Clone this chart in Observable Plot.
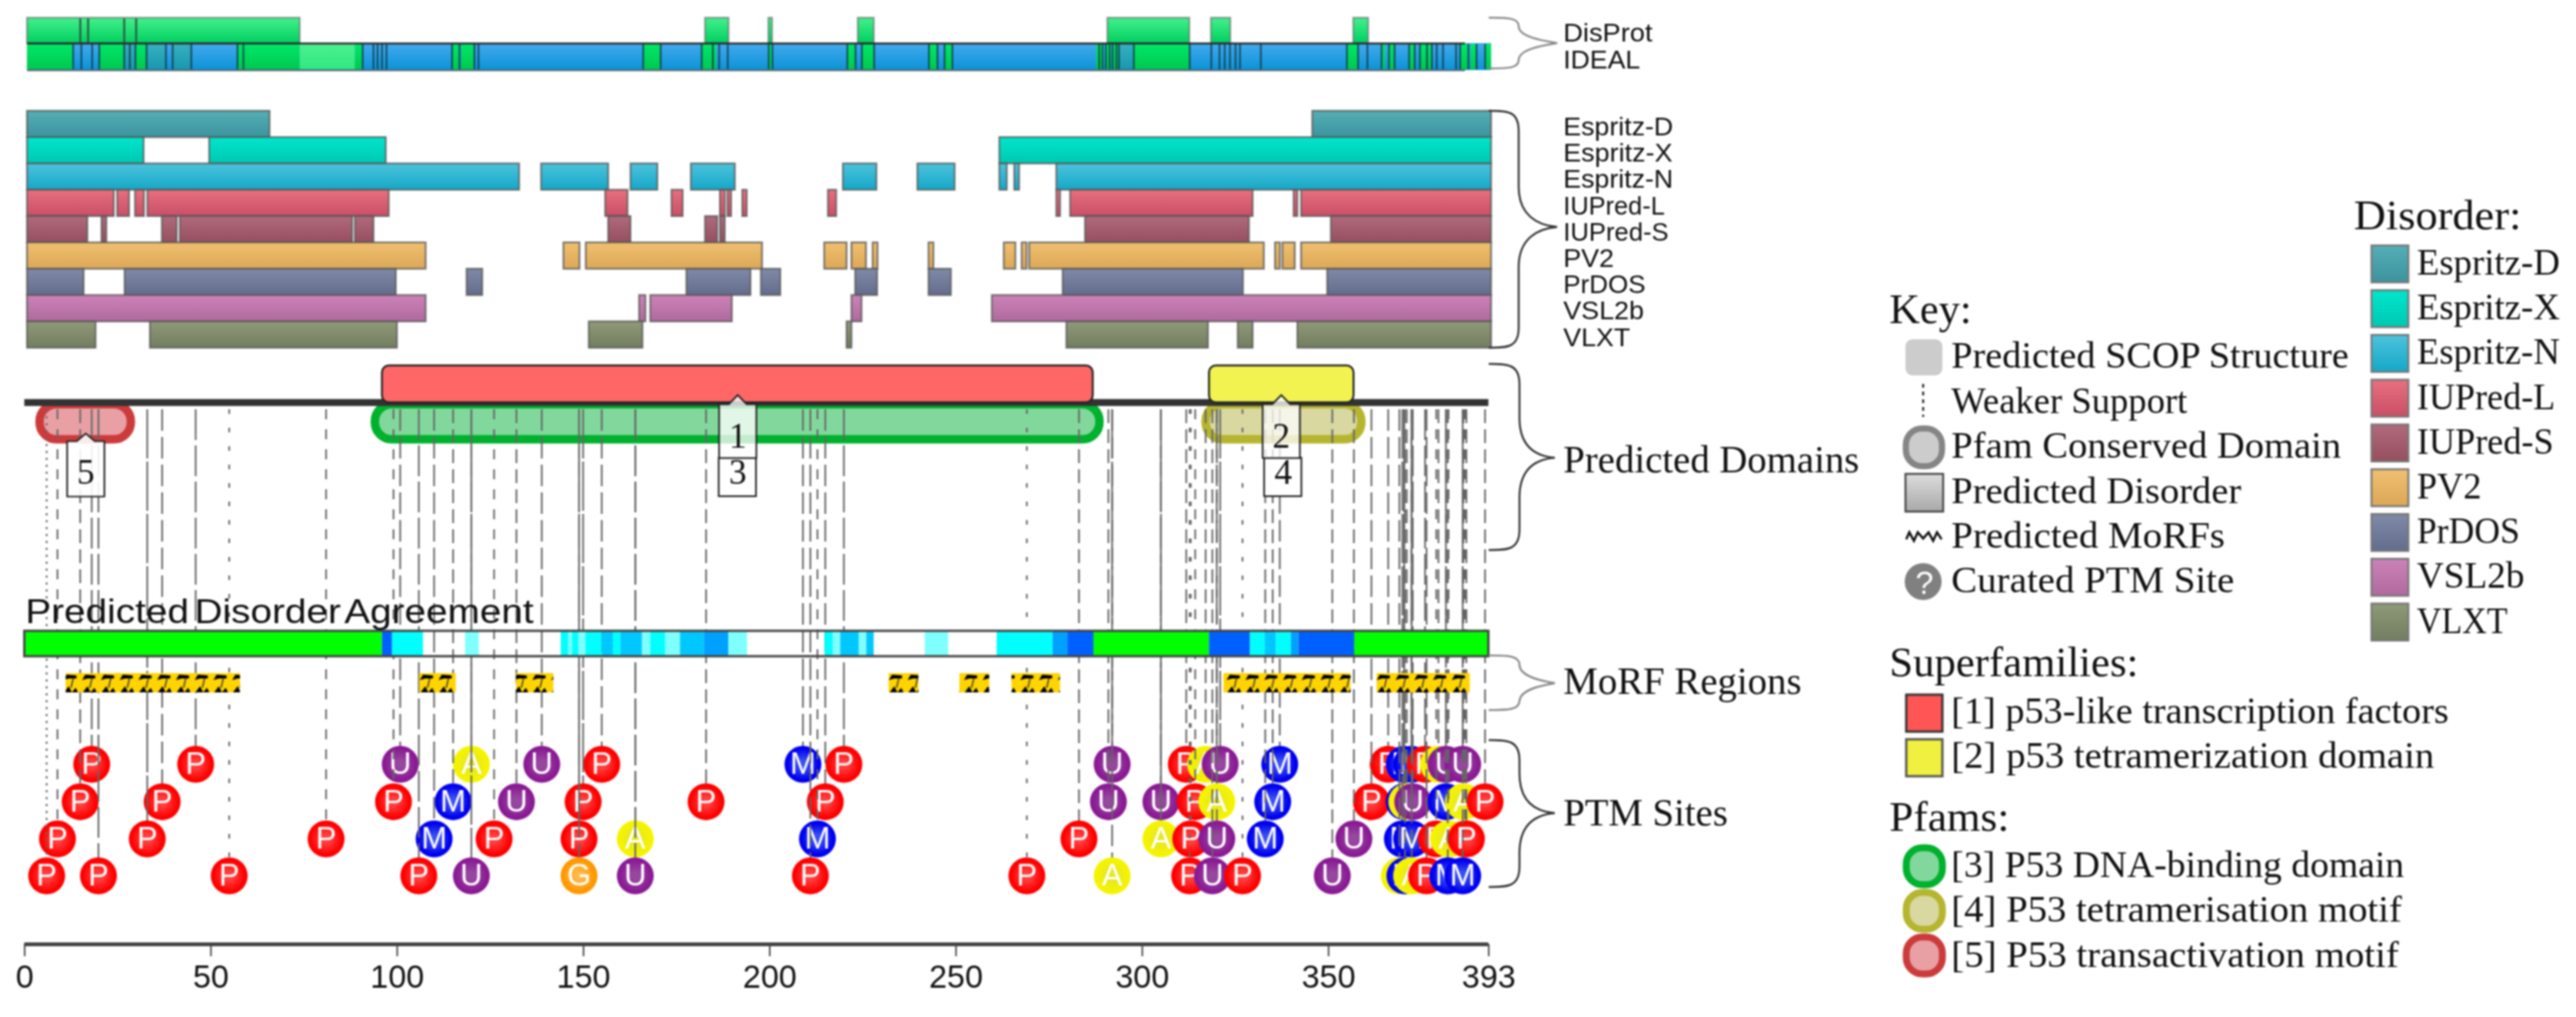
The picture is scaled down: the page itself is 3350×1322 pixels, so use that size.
<!DOCTYPE html>
<html><head><meta charset="utf-8">
<script src="https://cdn.jsdelivr.net/npm/d3@7"></script>
<script src="https://cdn.jsdelivr.net/npm/@observablehq/plot@0.6"></script>
<style>
html,body{margin:0;padding:0;background:#fff;width:3350px;height:1322px;overflow:hidden}
#wrap{position:relative;width:3350px;height:1322px;filter:blur(0.9px)}
#wrap>svg{position:absolute;left:0;top:0}
#ov text{font-family:"Liberation Serif",serif}
</style></head><body><div id="wrap"></div>
<script>
// ---------- data: residue ranges ----------
const sequenceLength = 393;
const axisTicks = [0,50,100,150,200,250,300,350,393];
const disProt = [[0,73.2],[182,188.3],[199,200],[223,227.3],[290,312],[317.8,323],[356,360]];
const disProtLines = [14.2,16.3,26,29.2];
const idealGreen = [[0,12.3],[19.3,26],[29,32],[56.4,73.2],[88,90],[114,116],[116.5,120],[165.3,170],[181,183],[183,185],[199,200],[220,222.3],[224,227.3],[242,244.3],[246.2,248.3],[287,289],[289.5,291],[291.5,293],[297,312],[354.2,357.2],[363.5,364.5],[365.5,367],[371,372.4],[373.8,375.7],[376,377],[384.6,386.8],[387.5,389],[391.3,393]];
const idealPale = [[73.2,88]];
const idealTeal = [[26,29],[32,37.2],[39,44],[293,297]];
const idealLines = [12.3,14.5,17.4,19.3,26,27.5,29,32,37.2,39,44,56.4,58,90,92.9,94,95.2,96.4,114,116,120,121.1,165.3,170,181,184,185.7,188,199,200,220.1,222.3,224,227.3,242,244.3,246.2,248.3,287.7,288.6,289.5,290.5,291.3,292.3,293,297,312,317.8,320,321.4,322.8,324.3,325.5,331.1,354.2,357.2,359.7,363.5,365.5,367,370.9,372.4,373.8,375.7,377,378.3,380,383.5,384.6,386.8,389,391.3];

const espritzD = [[0,65.1],[345,393]];
const espritzX = [[0,31.3],[48.9,96.3],[261,393]];
const espritzN = [[0,132.1],[138,156],[162,169.2],[178.2,190],[219,228],[239,249],[261,263],[265,266.3],[276.3,393]];
const iupredL = [[0,23.3],[24.2,27.4],[29,31.4],[32.3,97.1],[155.2,161.2],[173,176],[186,187.3],[188,189],[192,193.2],[215,217.2],[276.3,277.3],[280,329],[340,341],[342,393]];
const iupredS = [[0,16.2],[20,21.3],[36.2,40.2],[41,87.3],[88,93],[156,162],[182,185.3],[186,187.3],[284,328],[350,393]];
const pv2 = [[0,107],[144,148.3],[150,197.3],[214,220],[221.3,225.2],[227,228.3],[242,243.3],[262.2,265.3],[267,268.3],[269,332],[335,336.3],[337,340.3],[342,393]];
const prdos = [[0,15.2],[26.2,99],[118,122.2],[177,194.2],[197,202.2],[222.3,228.2],[242,248],[278,326.4],[349,393]];
const vsl2b = [[0,107],[164.3,166],[167.3,189.2],[221.3,224],[259,393]];
const vlxt = [[0,18.4],[33,99.3],[150.8,165.2],[220,221.3],[279,317],[325,329],[341,393]];
const disorderNames = ["Espritz-D","Espritz-X","Espritz-N","IUPred-L","IUPred-S","PV2","PrDOS","VSL2b","VLXT"];
const disorderRanges = [espritzD,espritzX,espritzN,iupredL,iupredS,pv2,prdos,vsl2b,vlxt];

const superfamilies = [[96,286.8,"#ff6666"],[318,356.8,"#f2f250"]];
const pfams = [[94.1,288.6,"#82d89c","#00b12e"],[317.1,358.9,"#d8d8a0","#b5b52f"],[4.1,28.6,"#e8a0a5","#cc3b3b"]];
const calloutsUpper = [[191.4,"1"],[337.3,"2"]];
const calloutsLower = [[191.4,"3"],[337.8,"4"],[16.4,"5"]];

const agreementLevels = ["#ffffff","#80ffff","#00ffff","#00c8ff","#00a0ff","#0060ff","#00ff00"];
const agreement = [[0,96,6],[96,98.7,5],[98.7,107,2],[118.3,122,1],[144,146,2],[146,147,1],[147,148.7,2],[148.7,150.6,1],[150.6,155,2],[155,158,3],[158,160,2],[160,165.8,3],[165.8,168,1],[168,172,2],[172,176,1],[176,182.4,3],[182.4,189,4],[189,194,1],[214.8,217,2],[217,219,1],[219,224,3],[224,226,1],[226,228,3],[241.7,248,1],[261,276,2],[276,280,4],[280,287,5],[287,318,6],[318,329,5],[329,333,2],[333,336,3],[336,340,2],[340,342,4],[342,357,5],[357,393,6]];
const morfRegions = [[11.1,57.9],[106,115.8],[132,142],[232,240],[251,259],[265,278],[321.9,356],[363,388]];

// PTM rows, top to bottom: position, kind letter, support strength of the guide line
const ptmRow1Pos = [18,45.9,100.8,119.9,138.8,154.9,208.9,219.9,291.9,311.8,317,320.9,336.9,366,370.3,372.3,375.9,379.5,381.5,386];
const ptmRow1Kind = "PPUAUPMPUPAUMPMMPAUU";
const ptmRow1Sup = [5,5,4,5,4,4,4,5,6,3,3,6,4,4,6,6,5,3,6,6];
const ptmRow2Pos = [14.9,36.9,99,115,132,149.9,182.9,214.9,290.9,305,314.2,320,335,361.5,370.3,371,372.6,381.5,386.2,392];
const ptmRow2Kind = "PPPMUPPPUUPAMPMAUMAP";
const ptmRow2Sup = [3,4,2,3,3,6,3,4,3,5,2,4,3,4,5,3,5,3,3,3];
const ptmRow3Pos = [8.8,32.9,80.9,109.9,126,148.8,163.9,212.8,283,305,313,320,333,356.8,369.8,372.3,378.9,382.2,386.6,387];
const ptmRow3Kind = "PPPMPPAMPAPUMUMMPAGP";
const ptmRow3Sup = [2,6,2,4,2,6,5,2,3,6,1,3,3,3,6,4,2,2,2,3];
const ptmRow4Pos = [5.9,19.8,54.9,105.8,119.9,148.8,163.9,210.9,269,291.9,312.7,318.8,326.9,351,369,370.5,372.3,376.3,382,386];
const ptmRow4Kind = "PPPPUGUPPAPUPUAMAPMM";
const ptmRow4Sup = [0,5,1,5,6,5,5,4,1,4,1,3,1,3,4,3,3,4,3,3];
const ptmRows = [[ptmRow1Pos,ptmRow1Kind,ptmRow1Sup],[ptmRow2Pos,ptmRow2Kind,ptmRow2Sup],[ptmRow3Pos,ptmRow3Kind,ptmRow3Sup],[ptmRow4Pos,ptmRow4Kind,ptmRow4Sup]];

// ---------- styles and layout ----------
const disorderTop = ["#55afb5","#00e6cc","#4dc3dc","#e8707f","#b06a7c","#f0c070","#808aa8","#cc82b8","#8f9a78"];
const disorderBot = ["#3c939f","#00c8b2","#14a8c8","#c94f66","#964f5f","#dba857","#636c8c","#b06a9e","#737d60"];
const dashes = ["3 6","6 18","13 13","18 8","28 8","40 7","64 4"];
const ptmColors = {P:["#ff4040","#ff0000"],M:["#3a50f0","#0000f0"],U:["#96489e","#8a1a94"],A:["#e6e62a","#f4f400"],G:["#ffb84a","#ff9800"]};
const rowY = 34.22, rowTop = 144, ptmY = [993,1041.7,1090,1138];

// ---------- overlay: defs, labels, brackets, key ----------
const wrap = d3.select("#wrap");
const ov = wrap.append("svg").attr("id","ov").attr("width",3350).attr("height",1322).style("z-index",2);
const defs = ov.append("defs");
function lin(id,a,b){const g=defs.append("linearGradient").attr("id",id).attr("x1",0).attr("x2",0).attr("y1",0).attr("y2",1);
 g.append("stop").attr("offset",0).attr("stop-color",a);g.append("stop").attr("offset",1).attr("stop-color",b);}
disorderNames.forEach((n,i)=>lin("dis"+i,disorderTop[i],disorderBot[i]));
lin("disprotG","#44f08c","#00d060");lin("idealB","#44aaee","#0b93d8");lin("idealG","#00e868","#00c850");lin("idealP","#4cf090","#30e880");lin("idealT","#38b0c0","#1898b0");lin("greyG","#dddddd","#a8a8a8");
for(const k in ptmColors){const g=defs.append("radialGradient").attr("id","ptm"+k).attr("cx",.5).attr("cy",.5).attr("r",.5);
 g.append("stop").attr("offset",.2).attr("stop-color",ptmColors[k][0]);g.append("stop").attr("offset",.85).attr("stop-color",ptmColors[k][1]);}
const pat=defs.append("pattern").attr("id","morf").attr("patternUnits","userSpaceOnUse").attr("width",24.4).attr("height",25).attr("y",875).attr("x",55);
pat.append("rect").attr("width",24.4).attr("height",25).attr("fill","#ffd400");
pat.append("path").attr("d","M3 9L7 2L20 3L20 7L10 7Z M4 25L10 17L14 25Z M14 25L19 19L22 25Z").attr("fill","#000");
pat.append("path").attr("d","M16 6L13 19").attr("fill","none").attr("stroke","#333").attr("stroke-width",1.6);

function txt(s,x,y,size,len,opt={}){const t=ov.append("text").attr("x",x).attr("y",y).attr("font-size",size).attr("fill",opt.fill||"#111").text(s);
 if(opt.sans)t.style("font-family","'Liberation Sans'");
 if(len)t.attr("textLength",len).attr("lengthAdjust","spacingAndGlyphs");return t;}
function brace(x0,y0,y1,xm,xt,ym,col,w){const r=Math.min(26,(ym-y0)/3);
 ov.append("path").attr("fill","none").attr("stroke",col).attr("stroke-width",w).attr("d",
 `M${x0} ${y0}C${x0+24} ${y0} ${xm} ${y0} ${xm} ${y0+r}L${xm} ${ym-r*2}C${xm} ${ym-r*.6} ${xt-r} ${ym-2} ${xt} ${ym}C${xt-r} ${ym+2} ${xm} ${ym+r*.6} ${xm} ${ym+r*2}L${xm} ${y1-r}C${xm} ${y1} ${x0+24} ${y1} ${x0} ${y1}`);}
brace(1936,23,89,1975,2025,56,"#8a8a8a",2.5);
brace(1936,144,452,1975,2025,295,"#333",2.5);
brace(1936,473,715,1976,2022,595,"#333",2.5);
brace(1936,852,923,1976,2022,888,"#8a8a8a",2.5);
brace(1936,962,1153,1976,2022,1057,"#333",2.5);

txt("DisProt",2033,54,34,116,{sans:1});txt("IDEAL",2033,89,34,100,{sans:1});
disorderNames.forEach((n,i)=>txt(n,2033,176+i*34.2,34,[143,142,143,132,137,66,107,105,87][i],{sans:1}));
txt("Predicted Domains",2033,614,50,385);
txt("MoRF Regions",2033,902,50,310);
txt("PTM Sites",2033,1073,50,214);

// key
txt("Key:",2457,420,55,107);
txt("Predicted SCOP Structure",2537.6,477.5,49,517);
txt("Weaker Support",2537.6,537,49,307);
txt("Pfam Conserved Domain",2537.6,595,49,507);
txt("Predicted Disorder",2537.6,653.6,49,377);
txt("Predicted MoRFs",2537.6,712,49,356);
txt("Curated PTM Site",2537.6,770,49,368);
ov.append("rect").attr("x",2478).attr("y",441).attr("width",48).attr("height",47).attr("rx",9).attr("fill","#cccccc");
ov.append("line").attr("x1",2501).attr("x2",2501).attr("y1",499).attr("y2",542).attr("stroke","#222").attr("stroke-width",2.5).attr("stroke-dasharray","5 5");
ov.append("rect").attr("x",2478.5).attr("y",557).attr("width",47).attr("height",49).attr("rx",21).attr("fill","#cccccc").attr("stroke","#858585").attr("stroke-width",8);
ov.append("rect").attr("x",2478).attr("y",616).attr("width",49).attr("height",49).attr("fill","url(#greyG)").attr("stroke","#444").attr("stroke-width",2.5);
ov.append("path").attr("d","M2479 701L2483 692L2489 703L2494 692L2501 700L2508 692L2514 703L2519 692L2525 701").attr("fill","none").attr("stroke","#111").attr("stroke-width",3);
ov.append("circle").attr("cx",2501).attr("cy",756).attr("r",24).attr("fill","#808080");
txt("?",2491,772,42,0,{fill:"#fff",sans:1});

// disorder legend
txt("Disorder:",3061,298,55,218);
disorderNames.forEach((n,i)=>{const y=319+i*58.2;
 ov.append("rect").attr("x",3084).attr("y",y).attr("width",48).attr("height",48).attr("fill","url(#dis"+i+")").attr("stroke","#777").attr("stroke-width",2.5);
 txt(n,3143,y+38,48,[186,186,186,180,178,84,134,140,118][i]);});

// superfamilies and pfams
txt("Superfamilies:",2457,879,55,324);
[["[1] p53-like transcription factors",902,"#ff5555","#333",647,940],["[2] p53 tetramerization domain",960,"#f0f040","#555",628,998]].forEach(d=>{
 ov.append("rect").attr("x",2479).attr("y",d[1]+1).attr("width",47).attr("height",48).attr("fill",d[2]).attr("stroke",d[3]).attr("stroke-width",3);
 txt(d[0],2537.6,d[5],49,d[4]);});
txt("Pfams:",2457,1080,55,156);
[["[3] P53 DNA-binding domain",1097,"#82d89c","#00b12e",589,1140],["[4] P53 tetramerisation motif",1155,"#d8d8a0","#b5b52f",586,1198],["[5] P53 transactivation motif",1213,"#e8a0a5","#cc3b3b",582,1257]].forEach(d=>{
 ov.append("rect").attr("x",2479).attr("y",d[1]+5).attr("width",47).attr("height",48).attr("rx",21).attr("fill",d[2]).attr("stroke",d[3]).attr("stroke-width",9);
 txt(d[0],2537.6,d[5],49,d[4]);});

txt("Predicted Disorder Agreement",33,810,45,661,{sans:1}).style("word-spacing","-6px");

// ---------- chart ----------
const spanRect=(data,y1,y2,o)=>Plot.rect(data,{x1:d=>d[0],x2:d=>d[1],y1:()=>y1,y2:()=>y2,...o});
const marks=[];
// DisProt and IDEAL tracks sit a few units right of the axis
marks.push(spanRect(disProt,23,56,{fill:"url(#disprotG)",stroke:"#606060",strokeOpacity:.55,strokeWidth:2.5,dx:3.5}));
marks.push(Plot.ruleX(disProtLines,{y1:24,y2:56,stroke:"#2a5a40",strokeWidth:2.5,dx:3.5}));
marks.push(spanRect([[0,393]],56,91,{fill:"url(#idealB)",dx:3.5}));
marks.push(spanRect(idealTeal,57,90,{fill:"url(#idealT)",dx:3.5}));
marks.push(spanRect(idealGreen,57,90,{fill:"url(#idealG)",dx:3.5}));
marks.push(spanRect(idealPale,57,90,{fill:"url(#idealP)",dx:3.5}));
marks.push(Plot.ruleX(idealLines,{y1:57,y2:90,stroke:"#103848",strokeOpacity:.85,strokeWidth:2.2,dx:3.5}));
marks.push(Plot.ruleY([56],{x1:0,x2:386,stroke:"#2a2a2a",strokeWidth:2.5,dx:3.5}));
marks.push(Plot.ruleY([91],{x1:0,x2:386,stroke:"#444",strokeWidth:2,strokeOpacity:.8,dx:3.5}));
// disorder predictors
disorderRanges.forEach((r,i)=>marks.push(spanRect(r,rowTop+i*rowY,rowTop+(i+1)*rowY,{fill:`url(#dis${i})`,stroke:"#555",strokeOpacity:.75,strokeWidth:2.4,dx:3.5})));
// domains
pfams.forEach(p=>marks.push(spanRect([p],525.5,571,{fill:p[2],stroke:p[3],strokeWidth:11,rx:22,ry:22})));
// PTM guide lines and sites, upper rows first
ptmRows.forEach(([pos,kind,sup],row)=>{
 const sites=pos.map((p,i)=>({p,k:kind[i],s:sup[i]}));
 for(const s of sites) marks.push(Plot.ruleX([s.p],{y1:532,y2:ptmY[row],stroke:"#666",strokeWidth:2.2,strokeDasharray:dashes[s.s]}));
 for(const s of sites){
  marks.push(Plot.dot([s],{x:"p",y:()=>ptmY[row],r:24,fill:`url(#ptm${s.k})`,stroke:"none"}));
  marks.push(Plot.text([s],{x:"p",y:()=>ptmY[row],text:"k",fill:"#fff",fontSize:40,fontFamily:"Liberation Sans"}));
 }
});
marks.push(Plot.ruleY([522.7],{stroke:"#333",strokeWidth:9}));
superfamilies.forEach(s=>marks.push(spanRect([s],475,523,{fill:s[2],stroke:"#222",strokeWidth:2.5,rx:9,ry:9})));
// callouts
const callout=(c,tip,top,bot,fill)=>Plot.line([[c-5,top],[c-2.4,top],[c,tip],[c+2.4,top],[c+5,top],[c+5,bot],[c-5,bot],[c-5,top]],{x:d=>d[0],y:d=>d[1],fill,stroke:"#222",strokeWidth:2.2});
calloutsLower.forEach(([c,t])=>{const five=t==="5";
 marks.push(five?callout(c,563,573,645,"rgba(255,255,255,.9)"):Plot.rect([c],{x1:d=>d-5,x2:d=>d+5,y1:()=>595,y2:()=>645,fill:"#fff",stroke:"#222",strokeWidth:2.2}));
 marks.push(Plot.text([c],{x:d=>d,y:()=>614,text:()=>t,fontSize:46,fontFamily:"Liberation Serif",fill:"#111"}));});
calloutsUpper.forEach(([c,t])=>{marks.push(callout(c,513,525,595,"rgba(255,255,255,.76)"));
 marks.push(Plot.text([c],{x:d=>d,y:()=>567,text:()=>t,fontSize:46,fontFamily:"Liberation Serif",fill:"#111"}));});
// agreement strip
marks.push(spanRect(agreement,820,853,{fill:d=>agreementLevels[d[2]]}));
marks.push(spanRect([[0,393]],820,853,{fill:"none",stroke:"#444",strokeWidth:3}));
// MoRFs
marks.push(spanRect(morfRegions,875,900,{fill:"url(#morf)"}));
// axis
marks.push(Plot.ruleY([1227],{stroke:"#444",strokeWidth:5}));
marks.push(Plot.axisX({ticks:axisTicks,anchor:"bottom",label:null,tickSize:16,tickPadding:11,fontSize:42,stroke:"#444",strokeWidth:2,fill:"#111",tickFormat:d=>String(d),fontFamily:"Liberation Sans"}));

const chart=Plot.plot({width:3350,height:1322,marginLeft:31.6,marginRight:3350-1935.6,marginTop:0,marginBottom:95,
 x:{domain:[0,sequenceLength],label:null},y:{domain:[0,1227],range:[0,1227],axis:null},color:{type:"identity"},
 style:{background:"transparent",overflow:"visible",fontFamily:"Liberation Sans"},marks});
d3.select(chart).style("z-index",1);
wrap.node().insertBefore(chart,wrap.node().firstChild);
</script></body></html>
